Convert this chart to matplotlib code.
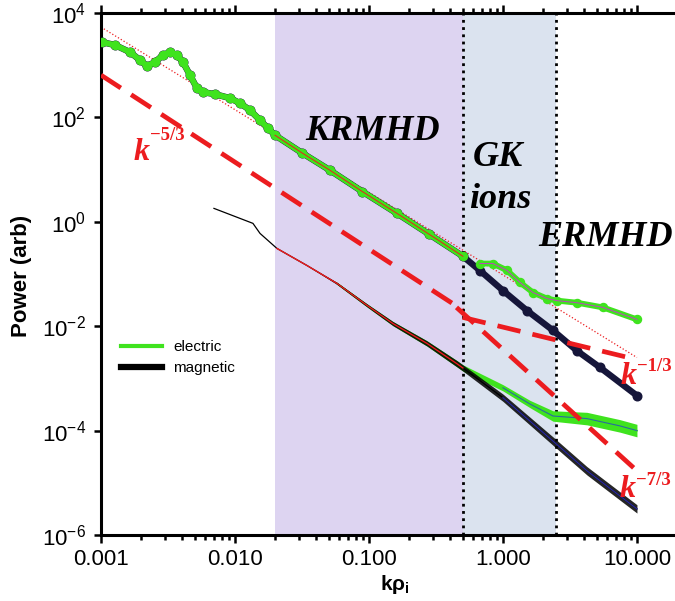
import numpy as np
import matplotlib
matplotlib.use('Agg')
import matplotlib.pyplot as plt
from matplotlib.lines import Line2D
from matplotlib.ticker import NullLocator, NullFormatter

plt.rcParams['font.family'] = ['Liberation Sans', 'DejaVu Sans']

# --- data (log10 k, log10 P) ---
# upper spectra, electric and magnetic agree below k ~ 0.5
upper_shared_logk = [-2.993, -2.896, -2.784, -2.709, -2.657, -2.597, -2.537, -2.485,
                     -2.433, -2.388, -2.336, -2.284, -2.239, -2.149, -2.037, -1.963,
                     -1.888, -1.813, -1.754, -1.701, -1.5, -1.291, -1.05, -0.791,
                     -0.55, -0.299]
upper_shared_logp = [3.443, 3.386, 3.251, 3.098, 2.983, 3.060, 3.194, 3.251,
                     3.194, 3.060, 2.810, 2.560, 2.484, 2.445, 2.369, 2.273,
                     2.139, 1.946, 1.793, 1.658, 1.32, 0.987, 0.58, 0.161,
                     -0.24, -0.66]
elec_hi_logk = [-0.172, -0.075, 0.030, 0.127, 0.224, 0.328, 0.403, 0.552, 0.746, 1.0]
elec_hi_logp = [-0.80, -0.80, -0.93, -1.16, -1.355, -1.47, -1.51, -1.55, -1.64, -1.87]
mag_hi_logk = [-0.172, 0.0, 0.179, 0.373, 0.552, 0.724, 1.0]
mag_hi_logp = [-0.933, -1.317, -1.70, -2.08, -2.47, -2.79, -3.33]

# lower spectra
low_mag_logk = [-2.157, -1.866, -1.813, -1.687, -1.463, -1.239, -1.015, -0.821,
                -0.567, -0.343, -0.299, 0.0, 0.373, 0.627, 1.0]
low_mag_logp = [0.257, -0.03, -0.223, -0.51, -0.837, -1.18, -1.60, -1.95,
                -2.33, -2.72, -2.80, -3.37, -4.20, -4.77, -5.50]
low_mag_spread = [0.0, 0.0, 0.0, 0.0, 0.0, 0.02, 0.03, 0.04,
                  0.05, 0.06, 0.06, 0.07, 0.08, 0.08, 0.08]
low_elec_logk = [-1.239, -1.015, -0.821, -0.567, -0.343, -0.299, 0.0, 0.201,
                 0.373, 0.627, 0.873, 1.0]
low_elec_logp = [-1.18, -1.60, -1.95, -2.33, -2.72, -2.80, -3.18, -3.49,
                 -3.72, -3.77, -3.91, -4.00]
low_elec_spread = [0.02, 0.03, 0.04, 0.05, 0.06, 0.06, 0.06, 0.07,
                   0.10, 0.12, 0.12, 0.12]

# reference power laws (k, P) end points
slope53_k, slope53_p = [0.001, 0.5], [10**2.81, 10**-1.69]
slope13_k, slope13_p = [0.5, 10.0], [10**-1.83, 10**-2.64]
slope73_k, slope73_p = [0.45, 10.0], [10**-1.64, 10**-4.77]
fit_k, fit_p = [0.001, 10.0], [10**3.73, 10**-2.6]

regions = [(0.02, 0.5, '#ddd4f1'), (0.5, 2.5, '#dbe3ef')]
xtick_vals = [0.001, 0.01, 0.1, 1.0, 10.0]
xtick_labels = ['0.001', '0.010', '0.100', '1.000', '10.000']
ytick_vals = [1e-6, 1e-4, 1e-2, 1e0, 1e2, 1e4]
ytick_labels = [r'$\mathdefault{10^{-6}}$', r'$\mathdefault{10^{-4}}$',
                r'$\mathdefault{10^{-2}}$', r'$\mathdefault{10^{0}}$',
                r'$\mathdefault{10^{2}}$', r'$\mathdefault{10^{4}}$']
slope_labels = [('\u22125/3', 134, 160, 20), ('\u22121/3', 621, 384, 13),
                ('\u22127/3', 620, 497, 12)]

GREEN = '#3fe31e'
NAVY = '#16163a'
RED = '#ec1c1f'

def tolin(v):
    return 10 ** np.array(v)

fig = plt.figure(figsize=(6.75, 6.01), dpi=100)
ax = fig.add_axes([101 / 675, 66 / 601, 574 / 675, 522 / 601])

for lo, hi, col in regions:
    ax.axvspan(lo, hi, color=col, lw=0, zorder=0)
for xv in [0.5, 2.5]:
    ax.axvline(xv, color='black', ls=(0, (1, 1.6)), lw=2, zorder=1)

# thin dotted fit through upper spectrum
ax.plot(fit_k, fit_p, color=RED, ls=':', lw=0.9, zorder=2)

# upper spectra
mag_k = tolin(upper_shared_logk + mag_hi_logk)
mag_p = tolin(upper_shared_logp + mag_hi_logp)
ax.plot(mag_k, mag_p, color=NAVY, lw=4.6, marker='o', ms=6.2, zorder=3)
ax.plot(tolin(upper_shared_logk), tolin(upper_shared_logp), color=GREEN, lw=4.2,
        marker='o', ms=5.8, solid_capstyle='round', zorder=3.1)
ax.plot(tolin(elec_hi_logk), tolin(elec_hi_logp), color=GREEN, lw=4.2,
        marker='o', ms=5.8, solid_capstyle='round', zorder=3.1)
ax.plot(tolin(upper_shared_logk[19:]), tolin(upper_shared_logp[19:]), color=RED,
        lw=0.7, zorder=3.2)
ax.plot(tolin(elec_hi_logk), tolin(elec_hi_logp), color='#c040c0', lw=0.7, zorder=3.2)

# lower spectra with their scatter
lk = tolin(low_elec_logk)
ax.fill_between(lk, tolin(np.array(low_elec_logp) - np.array(low_elec_spread)),
                tolin(np.array(low_elec_logp) + np.array(low_elec_spread)),
                color=GREEN, lw=0, zorder=2.5)
ax.plot(lk, tolin(low_elec_logp), color=GREEN, lw=1.2, zorder=2.6)
mk = tolin(low_mag_logk)
ax.fill_between(mk, tolin(np.array(low_mag_logp) - np.array(low_mag_spread)),
                tolin(np.array(low_mag_logp) + np.array(low_mag_spread)),
                color='black', lw=0, alpha=0.85, zorder=2.7)
ax.plot(mk, tolin(low_mag_logp), color='black', lw=0.9, zorder=2.8)
ax.plot(mk[3:11], tolin(low_mag_logp[3:11]), color=RED, lw=1.0, zorder=2.9)
ax.plot(mk[11:], tolin(low_mag_logp[11:]), color='#2a2aa0', lw=0.9, zorder=2.9)
ax.plot(lk[6:], tolin(low_elec_logp[6:]), color='#2a6aa0', lw=0.8, zorder=2.9)

# dashed power laws
dash = (0, (5, 2.6))
for kk, pp in [(slope53_k, slope53_p), (slope13_k, slope13_p), (slope73_k, slope73_p)]:
    ax.plot(kk, pp, color=RED, lw=3.4, ls=dash, zorder=4)

ax.set_xscale('log')
ax.set_yscale('log')
ax.set_xlim(1e-3, 10 ** 1.284)
ax.set_ylim(1e-6, 1e4)
ax.set_xticks(xtick_vals)
ax.set_xticklabels(xtick_labels)
ax.xaxis.set_minor_formatter(NullFormatter())
ax.set_yticks(ytick_vals)
ax.set_yticklabels(ytick_labels)
ax.yaxis.set_minor_locator(NullLocator())

for s in ['left', 'bottom', 'top']:
    ax.spines[s].set_linewidth(2.2)
ax.spines['right'].set_visible(False)
ax.tick_params(axis='both', which='both', direction='out', width=1.8)
ax.tick_params(axis='x', which='major', length=6, top=True, pad=4, labelsize=16)
ax.tick_params(axis='x', which='minor', length=3.5, top=True)
ax.tick_params(axis='y', which='major', length=5, right=False, pad=6, labelsize=16)

fig.text(22 / 675, 1 - 276 / 601, 'Power (arb)', rotation=90, ha='center', va='center',
         fontsize=16, fontweight='bold')
fig.text(395 / 675, 1 - 584 / 601, r'$\mathdefault{k\rho_i}$', ha='center', va='center',
         fontsize=15, fontweight='bold')

# region names
serif = dict(family='Liberation Serif', style='italic', weight='bold', fontsize=26,
             ha='center', va='center', color='black')
fig.text(373 / 675, 1 - 131 / 601, 'KRMHD', **serif)
fig.text(498 / 675, 1 - 158 / 601, 'GK', **serif)
fig.text(500 / 675, 1 - 200 / 601, 'ions', **serif)
fig.text(606 / 675, 1 - 238 / 601, 'ERMHD', **serif)

# slope labels: big italic k with a raised exponent
for expo, px, py, raise_px in slope_labels:
    fig.text(px / 675, 1 - py / 601, 'k', family='Liberation Serif', style='italic',
             weight='bold', fontsize=23, color=RED, ha='left', va='baseline')
    fig.text((px + 16) / 675, 1 - (py - raise_px) / 601, expo, family='Liberation Serif',
             weight='bold', fontsize=13.5, color=RED, ha='left', va='baseline')

handles = [Line2D([], [], color=GREEN, lw=3), Line2D([], [], color='black', lw=4.5)]
ax.legend(handles, ['electric', 'magnetic'], loc='upper left',
          bbox_to_anchor=(121 / 675, 1 - 340 / 601), bbox_transform=fig.transFigure,
          frameon=False, fontsize=11, handlelength=2.7, handletextpad=0.7,
          labelspacing=0.45, borderpad=0, borderaxespad=0)

fig.savefig('out.png', dpi=100)
plt.close(fig)
